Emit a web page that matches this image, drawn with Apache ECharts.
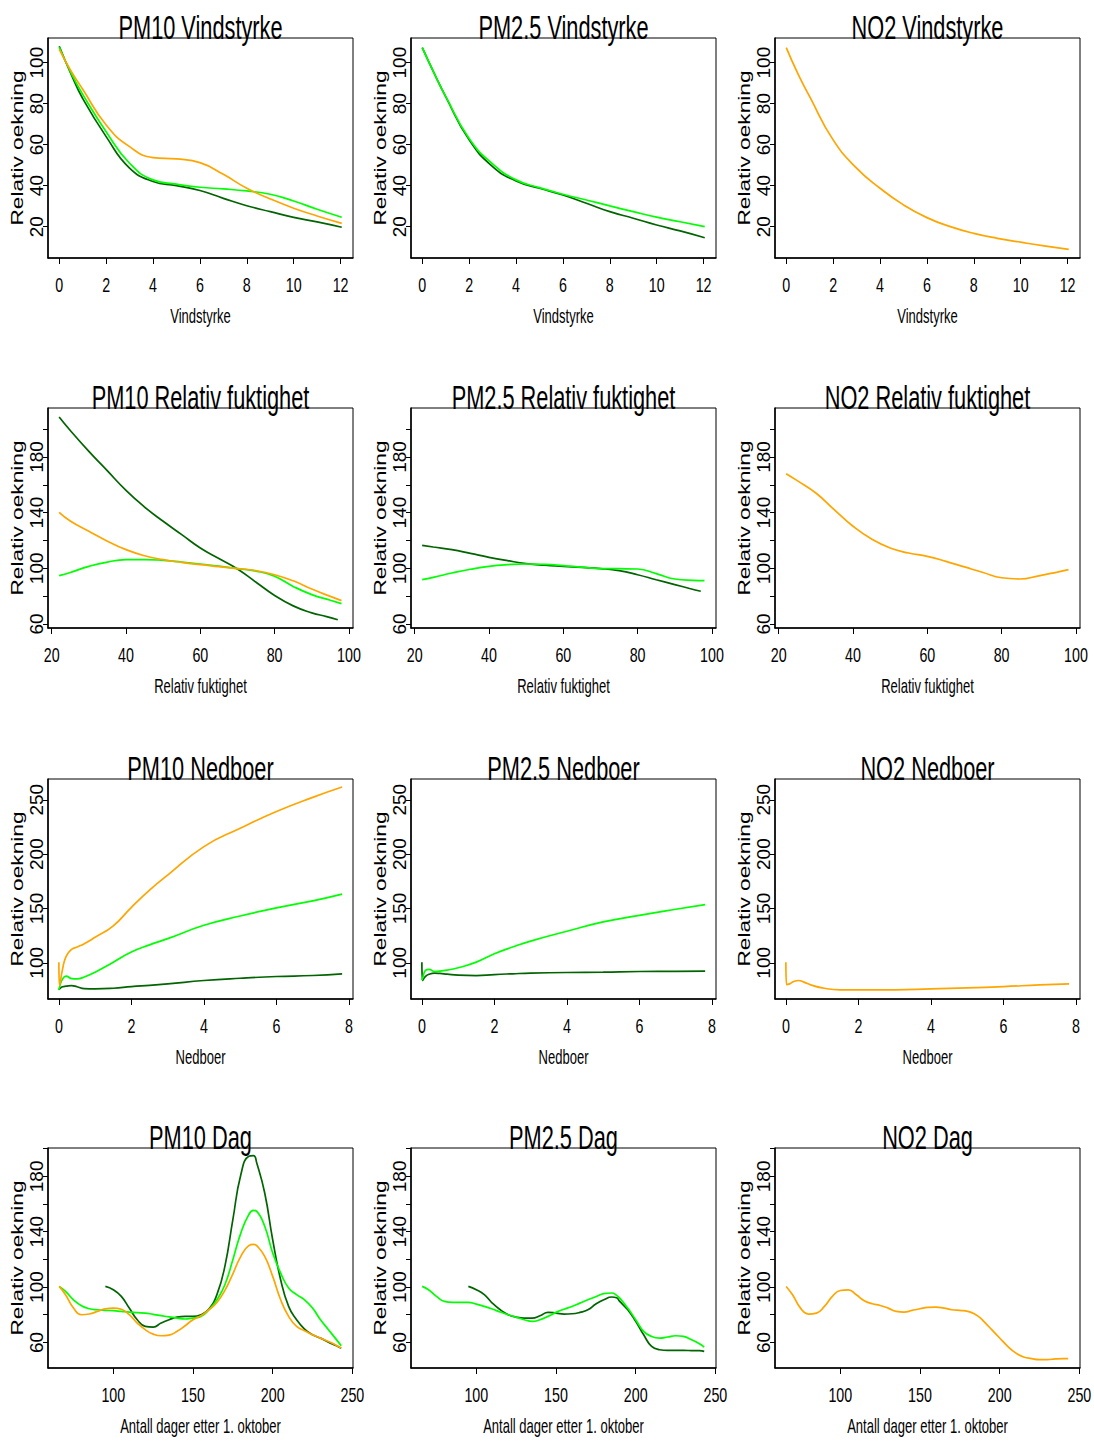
<!DOCTYPE html>
<html>
<head>
<meta charset="utf-8">
<script src="https://cdn.jsdelivr.net/npm/echarts@6/dist/echarts.min.js"></script>
<style>
html, body { margin: 0; padding: 0; background: #fff; }
#chart { width: 1094px; height: 1441px; }
</style>
</head>
<body>
<div id="chart"></div>
<script>
// --- Vindstyrke ---
const vindX = [0, 0.5, 1, 2, 3, 4, 5, 6, 7, 8, 9, 10, 11, 12.05];
const pm10VindOrange = [106.5, 96, 87, 69.6, 59, 53.7, 53, 51.2, 45.5, 38.7, 33.5, 29, 25.2, 21.6];
const pm10VindGronn = [107.5, 95, 84.5, 66.3, 50.9, 42.8, 40.7, 39.2, 38.4, 37.4, 35.8, 32.5, 28.5, 24.6];
const pm10VindMork = [108, 94.5, 82.5, 63.9, 48.5, 42, 40, 37.6, 33.8, 30.2, 27.3, 24.5, 22.3, 19.7];
const pm25VindGronn = [107.3, 95, 83.5, 63, 50.6, 42.8, 39, 35.8, 33, 30.1, 27.3, 24.6, 22.4, 20];
const pm25VindMork = [107.3, 95, 83.4, 62.3, 49.3, 42.3, 38.7, 35.4, 31.4, 27.3, 24.1, 20.8, 17.9, 14.6];
const no2VindOrange = [107.3, 94.5, 83.4, 62.3, 48.5, 38.7, 30.6, 24.4, 20, 16.7, 14.3, 12.4, 10.6, 8.9];
const vindXTicks = [0, 2, 4, 6, 8, 10, 12];
const vindYTicks = [20, 40, 60, 80, 100];

// --- Relativ fuktighet ---
const fuktX = [22, 25, 30, 35, 40, 45, 50, 55, 60, 65, 70, 75, 80, 85, 90, 95, 98];
const fuktX2 = [22, 25, 30, 35, 40, 45, 50, 55, 60, 65, 70, 75, 80, 85, 90, 94, 97];
const pm10FuktMork = [208.7, 199, 184, 170, 156, 144, 133.8, 124.2, 114.6, 107, 99.5, 90, 80.5, 73, 68, 65.3, 63];
const pm10FuktOrange = [140.2, 134, 126.6, 119.5, 113.4, 109, 106.2, 104.2, 102.6, 101.2, 99.8, 98.3, 95.4, 91, 85.1, 79.8, 76.8];
const pm10FuktGronn = [94.7, 97, 101.4, 104.5, 106.2, 106.3, 105.7, 104.5, 103.1, 101.5, 99.8, 98, 94.3, 87, 81.1, 77, 74.6];
const pm25FuktMork = [116.5, 115.3, 113.4, 110.7, 107.9, 105.5, 103.4, 102.2, 101.4, 100.6, 99.8, 98.3, 95.4, 91.8, 88.3, 85.5, 83.5];
const pm25FuktGronn = [91.9, 93.5, 96.6, 99.3, 101.4, 102.6, 103.1, 102.8, 101.9, 100.8, 99.8, 99.7, 99.5, 96.2, 92.3, 91.3, 91.1];
const no2FuktOrange = [168, 163, 154.1, 142, 130.2, 121, 114.6, 111, 108.6, 105, 101, 97, 93.2, 92.3, 94.6, 97.3, 99];
const fuktXTicks = [20, 40, 60, 80, 100];
const fuktYTicks = [60, 80, 100, 120, 140, 160, 180, 200];
const fuktYLabels = [60, 100, 140, 180];

// --- Nedboer ---
const nedX = [0, 0.02, 0.1, 0.2, 0.35, 0.5, 0.7, 1, 1.5, 2, 2.5, 3, 4, 5, 6, 7, 7.81];
const pm10NedOrange = [100.6, 79, 94, 106, 112.3, 114.5, 117.6, 123.5, 134, 151, 166.8, 180.7, 206.9, 223.8, 239.2, 252.2, 261.7];
const pm10NedGronn = [75.1, 78, 85, 87.7, 85.5, 85.2, 87, 91.4, 100.6, 109.9, 116.5, 122.2, 134.5, 143.1, 150.5, 157, 163.2];
const pm10NedMork = [75.1, 76, 78, 78.5, 79, 78, 76.3, 76, 76.6, 78.1, 79.3, 80.6, 83.7, 85.8, 87.4, 88.3, 89.9];
const pm25NedGronn = [84, 86, 93, 94, 92, 92.3, 93.3, 95.4, 100.6, 108.3, 114.5, 120, 129, 137.6, 143.7, 149.3, 153.6];
const pm25NedMork = [100.6, 83.7, 87.5, 89.5, 90.5, 90.2, 89.5, 88.6, 88.2, 89.2, 89.9, 90.5, 91.1, 91.4, 92, 92.1, 92.3];
const no2NedOrange = [100.6, 80, 80.6, 82.5, 83.7, 82.2, 79.5, 76.9, 75.1, 75.1, 75.1, 75.1, 76, 76.9, 78.1, 79.7, 80.6];
const nedXTicks = [0, 2, 4, 6, 8];
const nedYTicks = [100, 150, 200, 250];

// --- Dag ---
const dagX = [66, 70, 75, 80, 85, 90, 95, 100, 105, 110, 115, 120, 125, 130, 135, 140, 145, 150, 155, 160,
  165, 170, 175, 180, 185, 188, 190, 195, 200, 205, 210, 215, 220, 225, 230, 235, 240, 243];
const dagX2 = [95, 100, 105, 110, 115, 120, 125, 130, 135, 140, 145, 150, 155, 160,
  165, 170, 175, 180, 185, 188, 190, 195, 200, 205, 210, 215, 220, 225, 230, 235, 240, 243];
const pm10DagOrange = [100.5, 94.5, 84.8, 80, 80.5, 82.4, 84.3, 84.8, 84, 80, 74, 69.2, 66, 64.8, 65.3, 68, 72, 76.4, 79.3, 83.6,
  88.9, 97.6, 109.6, 122.2, 129.9, 130.8, 129.9, 122.2, 107.7, 90.8, 78.8, 71.6, 68.4, 65.5, 63.1, 60.7, 57.8, 55.9];
const pm10DagGronn = [100.5, 96.9, 90.8, 86.5, 84.3, 83.6, 83.2, 82.9, 82.4, 81.9, 81.5, 81.2, 80.2, 79.3, 78.4, 77.6, 76.9, 77.6, 78.8, 83.6,
  90.8, 101.7, 119.8, 139, 152.3, 155.4, 154.7, 143.9, 124.6, 110.1, 99.3, 94.5, 90.8, 84.8, 76.4, 69.2, 62, 57.6];
const pm10DagMork = [100.5, 98.1, 93.3, 84.8, 76.4, 71.6, 71.1, 74, 76.4, 78.3, 78.8, 78.8, 80, 84.1,
  94.5, 114.9, 148.7, 181.2, 194.5, 195, 189.6, 168, 134.2, 105.3, 86, 76.4, 69.6, 65.5, 63.1, 60.2, 57.6, 55.7];
const pm25DagGronn = [100.5, 98.1, 93.3, 89.6, 88.9, 88.9, 88.9, 87.7, 86, 84.1, 82, 80, 78.2, 76.4, 75.2, 76.4, 78.8, 81.7, 84, 86,
  88.4, 90.8, 93, 95.2, 95.7, 94, 92, 84.8, 76.4, 68, 64.3, 63.1, 63.9, 64.8, 64.3, 61.9, 59, 56.6];
const pm25DagMork = [100.5, 98.1, 94.5, 88.4, 83.6, 80, 78.3, 77.6, 77.6, 79.3, 81.7, 81.2, 80.5, 80.7,
  81.7, 83.6, 87.7, 90.8, 92.8, 92.3, 89.6, 83.6, 75.2, 65.5, 57.1, 54.7, 54.2, 54.2, 54.2, 54.1, 54, 53.5];
const no2DagOrange = [100.4, 94.4, 84.8, 80.5, 81.2, 86, 93.2, 97.5, 98, 94.4, 90.1, 87.9, 86.7, 84.8, 82.4, 81.9, 83.1, 84.3, 85.3, 85.5,
  84.8, 83.6, 83.1, 82.4, 80, 77.5, 75.2, 69.2, 63.2, 57.2, 52.4, 49.5, 48.3, 47.6, 47.6, 48.1, 48.3, 48.3];
const dagXTicks = [100, 150, 200, 250];
const dagYTicks = [60, 80, 100, 120, 140, 160, 180, 200];
const dagYLabels = [60, 100, 140, 180];

const komponenter = ['PM10', 'PM2.5', 'NO2'];
const yTittel = 'Relativ oekning';

const ORANGE = '#FFA500', GRONN = '#00FF00', MORK = '#006400';

const rader = [
  { navn: 'Vindstyrke', xNavn: 'Vindstyrke', xMin: -0.48, xMax: 12.53, yMin: 4.7, yMax: 112,
    xTicks: vindXTicks, yTicks: vindYTicks, yLabels: vindYTicks,
    kurver: [
      [[vindX, pm10VindMork, MORK], [vindX, pm10VindGronn, GRONN], [vindX, pm10VindOrange, ORANGE]],
      [[vindX, pm25VindMork, MORK], [vindX, pm25VindGronn, GRONN]],
      [[vindX, no2VindOrange, ORANGE]]
    ] },
  { navn: 'Relativ fuktighet', xNavn: 'Relativ fuktighet', xMin: 19, xMax: 101.1, yMin: 57.1, yMax: 215.2,
    xTicks: fuktXTicks, yTicks: fuktYTicks, yLabels: fuktYLabels,
    kurver: [
      [[fuktX2, pm10FuktMork, MORK], [fuktX, pm10FuktGronn, GRONN], [fuktX, pm10FuktOrange, ORANGE]],
      [[fuktX2, pm25FuktMork, MORK], [fuktX, pm25FuktGronn, GRONN]],
      [[fuktX, no2FuktOrange, ORANGE]]
    ] },
  { navn: 'Nedboer', xNavn: 'Nedboer', xMin: -0.3, xMax: 8.11, yMin: 66.7, yMax: 269.1,
    xTicks: nedXTicks, yTicks: nedYTicks, yLabels: nedYTicks,
    kurver: [
      [[nedX, pm10NedMork, MORK], [nedX, pm10NedGronn, GRONN], [nedX, pm10NedOrange, ORANGE]],
      [[nedX, pm25NedMork, MORK], [nedX, pm25NedGronn, GRONN]],
      [[nedX, no2NedOrange, ORANGE]]
    ] },
  { navn: 'Dag', xNavn: 'Antall dager etter 1. oktober', xMin: 59, xMax: 250.4, yMin: 41.5, yMax: 200.5,
    xTicks: dagXTicks, yTicks: dagYTicks, yLabels: dagYLabels,
    kurver: [
      [[dagX2, pm10DagMork, MORK], [dagX, pm10DagGronn, GRONN], [dagX, pm10DagOrange, ORANGE]],
      [[dagX2, pm25DagMork, MORK], [dagX, pm25DagGronn, GRONN]],
      [[dagX, no2DagOrange, ORANGE]]
    ] }
];

const kolVenstre = [48, 411, 775];
const radTopp = [38, 408, 779, 1148];
const boksB = 305, boksH = 220;
const FONT = "'Liberation Sans', Arial, Helvetica, sans-serif";

function par(xs, ys) {
  let ut = [];
  for (let i = 0; i < Math.min(xs.length, ys.length); i++) ut.push([xs[i], ys[i]]);
  return ut;
}

function tekst(x, y, txt, size, opts) {
  return Object.assign({ type: 'text', x: x, y: y, silent: true,
    style: { text: txt, fontSize: size, fontFamily: FONT, fill: '#000',
      align: 'center', verticalAlign: 'middle', textAlign: 'center', textVerticalAlign: 'middle' } }, opts);
}

let grid = [], xAxis = [], yAxis = [], series = [], graphic = [];

rader.forEach(function (rad, r) {
  komponenter.forEach(function (komp, c) {
    let idx = grid.length;
    let left = kolVenstre[c], top = radTopp[r];
    grid.push({ left: left, top: top, width: boksB, height: boksH, show: true,
      borderColor: '#000', borderWidth: 1, backgroundColor: 'transparent', containLabel: false });
    xAxis.push({ type: 'value', gridIndex: idx, min: rad.xMin, max: rad.xMax,
      axisLine: { show: true, onZero: false, lineStyle: { color: '#000', width: 1.5 } },
      axisTick: { show: true, length: 6, customValues: rad.xTicks, lineStyle: { color: '#000', width: 1 } },
      axisLabel: { show: false },
      splitLine: { show: false } });
    yAxis.push({ type: 'value', gridIndex: idx, min: rad.yMin, max: rad.yMax,
      axisLine: { show: true, onZero: false, lineStyle: { color: '#000', width: 1.5 } },
      axisTick: { show: true, length: 5, customValues: rad.yTicks, lineStyle: { color: '#000', width: 1 } },
      axisLabel: { show: true, customValues: rad.yLabels, rotate: 90, margin: 2, fontSize: 19, fontFamily: FONT, color: '#000' },
      splitLine: { show: false } });
    rad.kurver[c].forEach(function (k) {
      series.push({ type: 'line', xAxisIndex: idx, yAxisIndex: idx, data: par(k[0], k[1]),
        showSymbol: false, smooth: 0.5, clip: true, silent: true,
        lineStyle: { color: k[2], width: 1.7 }, itemStyle: { color: k[2] } });
    });
  });
});

let myChart = echarts.init(document.getElementById('chart'), null, { renderer: 'svg' });
myChart.setOption({
  animation: false,
  backgroundColor: '#fff',
  grid: grid,
  xAxis: xAxis,
  yAxis: yAxis,
  series: series
});

// titler, aksenavn og smale x-etiketter (plassert via aksens skala)
rader.forEach(function (rad, r) {
  komponenter.forEach(function (komp, c) {
    let idx = r * komponenter.length + c;
    let left = kolVenstre[c], top = radTopp[r];
    graphic.push(tekst(left + boksB / 2, top - 11, komp + ' ' + rad.navn, 34, { scaleX: 0.64 }));
    graphic.push(tekst(left + boksB / 2, top + boksH + 57.5, rad.xNavn, 21, { scaleX: 0.62 }));
    graphic.push(tekst(left - 31, top + boksH / 2, yTittel, 22.7, { rotation: Math.PI / 2, scaleY: 0.72 }));
    rad.xTicks.forEach(function (v) {
      let px = myChart.convertToPixel({ xAxisIndex: idx }, v);
      graphic.push(tekst(px, top + boksH + 27, String(v), 21, { scaleX: 0.68 }));
    });
  });
});

myChart.setOption({ graphic: graphic });
</script>
</body>
</html>
